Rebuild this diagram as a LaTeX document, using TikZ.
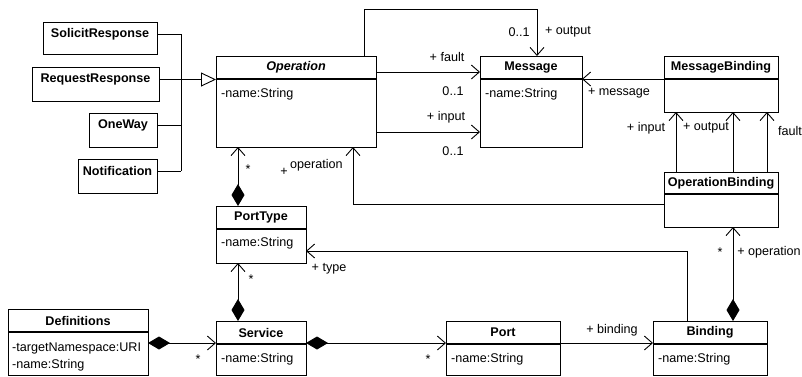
\documentclass[tikz,border=0pt]{standalone}
\usepackage{fontspec}
\setmainfont{Liberation Sans}
\usetikzlibrary{arrows.meta,calc}
\tikzset{
  x=1pt, y=-1pt,
  every node/.style={font=\fontsize{12.6}{14}\selectfont},
  box/.style={draw, line width=1pt, anchor=north west, inner sep=0pt, outer sep=0pt},
  title/.style={inner sep=0pt, font=\fontsize{12.6}{14}\selectfont\bfseries},
  attr/.style={inner sep=0pt, anchor=west},
  lbl/.style={inner sep=0pt},
  divider/.style={line width=1.6pt},
  conn/.style={line width=0.9pt},
  openarr/.style={-{Straight Barb[length=8pt,width=14pt]}},
  genarr/.style={-{Triangle[open,length=15pt,width=14pt,fill=white]}},
  comparr/.style={{Diamond[length=22pt,width=13pt]}-{Straight Barb[length=8pt,width=14pt]}},
}
\newcommand\umlbox[7]{%
  \node[box, minimum width=#4pt, minimum height=#5pt] (#1) at (#2,#3) {};
  \node[title] (#1-t) at ($(#1.north)+(0,#6/2)$) {#7};
  \draw[divider] ($(#1.north west)+(0,#6)$) -- ($(#1.north east)+(0,#6)$);
}
\newcommand\plainbox[6]{%
  \node[box, minimum width=#4pt, minimum height=#5pt] (#1) at (#2,#3) {};
  \node[title] (#1-t) at ($(#1.north)+(0,12)$) {#6};
}
\begin{document}
\begin{tikzpicture}
\useasboundingbox (0,0) rectangle (802,376);

% subtype boxes
\plainbox{sr}{43}{22}{114}{32}{SolicitResponse}
\plainbox{rr}{32}{67}{127}{34}{RequestResponse}
\plainbox{ow}{89}{113}{68}{34}{OneWay}
\plainbox{nt}{78}{159}{79}{34}{Notification}

% classes
\umlbox{op}{216}{56}{160}{91}{23}{\itshape Operation}
\node[attr] (op-a) at ($(op.north west)+(5,38)$) {-name:String};

\umlbox{msg}{480}{56}{102}{91}{23}{Message}
\node[attr] (msg-a) at ($(msg.north west)+(5,38)$) {-name:String};

\umlbox{mb}{664}{56}{114}{56}{23}{MessageBinding}
\umlbox{ob}{664}{172}{114}{55}{22}{OperationBinding}

\umlbox{pt}{216}{206}{90}{57}{23}{PortType}
\node[attr] (pt-a) at ($(pt.north west)+(5,37)$) {-name:String};

\umlbox{svc}{216}{321}{90}{54}{23}{Service}
\node[attr] (svc-a) at ($(svc.north west)+(5,38)$) {-name:String};

\umlbox{def}{8}{309}{140}{66.5}{23}{Definitions}
\node[attr] (def-a1) at ($(def.north west)+(4,39)$) {-targetNamespace:URI};
\node[attr] (def-a2) at ($(def.north west)+(4,56)$) {-name:String};

\umlbox{port}{446}{321}{114}{54}{23}{Port}
\node[attr] (port-a) at ($(port.north west)+(5,38)$) {-name:String};

\umlbox{bind}{653}{321}{114}{54}{23}{Binding}
\node[attr] (bind-a) at ($(bind.north west)+(5,38)$) {-name:String};

% generalization
\coordinate (bus) at (181,79.5);
\draw[conn] (sr.east |- sr-t) -- (bus |- sr-t) -- (bus |- nt-t);
\draw[conn] (ow.east |- ow-t) -- (bus |- ow-t);
\draw[conn] (nt.east |- nt-t) -- (bus |- nt-t);
\draw[conn, genarr] (rr.east |- bus) -- (op.west |- bus);

% operation -> message
\draw[conn, openarr] (364,0 |- op.north) -- (364,9.5) -| (537,0 |- msg.north);
\draw[conn, openarr] (op.east |- 0,72) -- (msg.west |- 0,72);
\draw[conn, openarr] (op.east |- 0,132) -- (msg.west |- 0,132);
\node[lbl] (l-o01) at (519,32) {0..1};
\node[lbl] (l-out) at (568,32) {+ output};
\node[lbl] (l-fault) at (447,57) {+ fault};
\node[lbl] (l-f01) at (453,91) {0..1};
\node[lbl] (l-in) at (446,117) {+ input};
\node[lbl] (l-i01) at (453,151) {0..1};

% message binding -> message
\draw[conn, openarr] (mb.west |- 0,79) -- (msg.east |- 0,79);
\node[lbl] (l-msg) at (619,93) {+ message};

% operation binding -> message binding
\draw[conn, openarr] (676,0 |- ob.north) -- (676,0 |- mb.south);
\draw[conn, openarr] (733,0 |- ob.north) -- (733,0 |- mb.south);
\draw[conn, openarr] (767,0 |- ob.north) -- (767,0 |- mb.south);
\node[lbl] (l-mbin) at (646,128) {+ input};
\node[lbl] (l-mbout) at (706,128) {+ output};
\node[lbl] (l-mbf) at (790,131) {fault};

% operation binding -> operation
\draw[conn, openarr] (ob.west |- 0,204) -| (353,0 |- op.south);
\node[lbl] (l-op1) at (284,172) {+};
\node[lbl, anchor=west] (l-op2) at (290,165) {operation};

% porttype composes operation
\draw[conn, comparr] (238,0 |- pt.north) -- (238,0 |- op.south);
\node[lbl] (l-s1) at (248,169) {*};

% service composes porttype
\draw[conn, comparr] (238,0 |- svc.north) -- (238,0 |- pt.south);
\node[lbl] (l-s2) at (251,279) {*};

% binding -> porttype
\draw[conn, openarr] (687,0 |- bind.north) |- (pt.east |- 0,251);
\node[lbl] (l-type) at (329,269) {+ type};

% definitions composes service
\draw[conn, comparr] (def.east |- 0,343) -- (svc.west |- 0,343);
\node[lbl] (l-s3) at (198,359) {*};

% service composes port
\draw[conn, comparr] (svc.east |- 0,343) -- (port.west |- 0,343);
\node[lbl] (l-s4) at (428,359) {*};

% port -> binding
\draw[conn, openarr] (port.east |- 0,343) -- (bind.west |- 0,343);
\node[lbl] (l-bind) at (612,330) {+ binding};

% binding composes operation binding
\draw[conn, comparr] (733,0 |- bind.north) -- (733,0 |- ob.south);
\node[lbl] (l-s5) at (720,252) {*};
\node[lbl] (l-bop) at (769,252) {+ operation};
\end{tikzpicture}
\end{document}
